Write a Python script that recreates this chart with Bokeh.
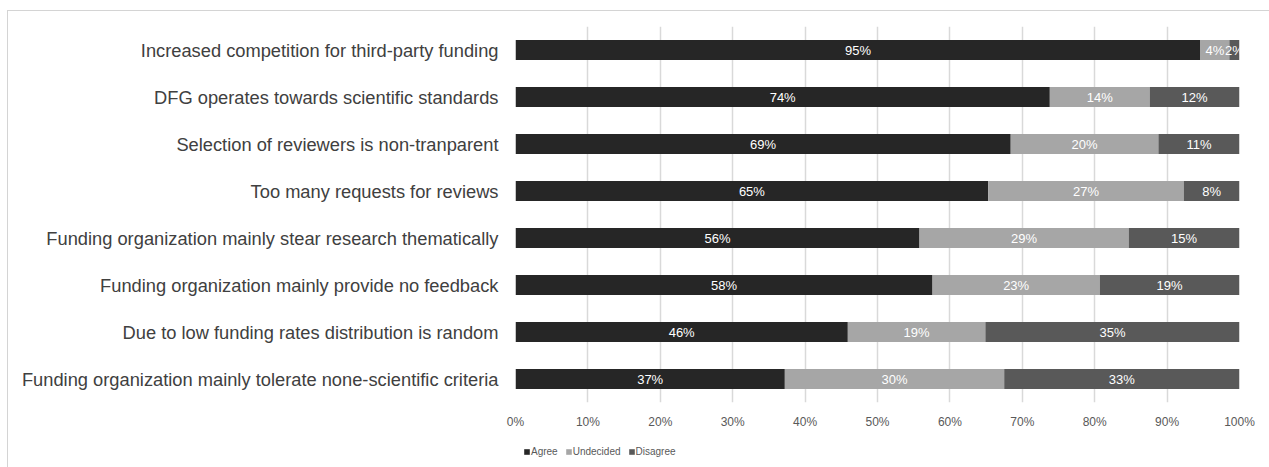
from bokeh.plotting import figure
from bokeh.layouts import column
from bokeh.models import (Legend, LegendItem, ColumnDataSource, FactorRange, NumeralTickFormatter,
                          FixedTicker, Range1d)
from bokeh.core.properties import value
from bokeh.embed import file_html
from bokeh.resources import INLINE

categories = [
    "Increased competition for third-party funding",
    "DFG operates towards scientific standards",
    "Selection of reviewers is non-tranparent",
    "Too many requests for reviews",
    "Funding organization mainly stear research thematically",
    "Funding organization mainly provide no feedback",
    "Due to low funding rates distribution is random",
    "Funding organization mainly tolerate none-scientific criteria",
]
agree = [94.6, 73.8, 68.4, 65.3, 55.8, 57.6, 45.9, 37.2]
undecided = [4.0, 13.8, 20.4, 27.0, 28.9, 23.1, 19.0, 30.3]
disagree = [1.4, 12.4, 11.2, 7.7, 15.3, 19.3, 35.1, 32.5]
agree_lbl = ["95%", "74%", "69%", "65%", "56%", "58%", "46%", "37%"]
undecided_lbl = ["4%", "14%", "20%", "27%", "29%", "23%", "19%", "30%"]
disagree_lbl = ["2%", "12%", "11%", "8%", "15%", "19%", "35%", "33%"]
series = ["Agree", "Undecided", "Disagree"]
colors = ["#262626", "#a6a6a6", "#595959"]
x_ticks = [0, 10, 20, 30, 40, 50, 60, 70, 80, 90, 100]

FONT = "Liberation Sans"

p = figure(
    width=1262, height=430,
    y_range=FactorRange(*reversed(categories)),
    x_range=(0, 100),
    output_backend="svg", toolbar_location=None,
    min_border_left=507, min_border_right=31, min_border_top=15, min_border_bottom=39,
)
p.outline_line_color = None
p.background_fill_color = "white"
p.border_fill_color = "white"

vals = [agree, undecided, disagree]
lbls = [agree_lbl, undecided_lbl, disagree_lbl]
left = [0.0] * len(categories)
for name, col, v, lb in zip(series, colors, vals, lbls):
    right = [a + b for a, b in zip(left, v)]
    mid = [(a + b) / 2 for a, b in zip(left, right)]
    src = ColumnDataSource(dict(cat=categories, left=left, right=right, mid=mid, lbl=lb))
    p.hbar(y="cat", left="left", right="right", height=0.43, source=src,
           fill_color=col, line_color=None)
    p.text(x="mid", y="cat", text="lbl", source=src, text_color="white",
           text_font=value(FONT), text_font_size="13px",
           text_align="center", text_baseline="middle")
    left = right

# axes
p.yaxis.axis_line_color = None
p.yaxis.major_tick_line_color = None
p.yaxis.minor_tick_line_color = None
p.yaxis.major_tick_out = 0
p.yaxis.major_tick_in = 0
p.yaxis.major_label_text_font = FONT
p.yaxis.major_label_text_font_size = "18.3px"
p.yaxis.major_label_text_color = "#404040"
p.yaxis.major_label_standoff = 17

p.xaxis.ticker = FixedTicker(ticks=x_ticks)
p.xaxis.formatter = NumeralTickFormatter(format="0")
p.xaxis.major_label_overrides = {t: f"{t}%" for t in x_ticks}
p.xaxis.axis_line_color = None
p.xaxis.major_tick_line_color = None
p.xaxis.minor_tick_line_color = None
p.xaxis.major_tick_out = 0
p.xaxis.major_tick_in = 0
p.xaxis.major_label_text_font = FONT
p.xaxis.major_label_text_font_size = "12px"
p.xaxis.major_label_text_color = "#595959"
p.xaxis.major_label_standoff = 12

p.ygrid.grid_line_color = None
p.xgrid.grid_line_color = "#d9d9d9"
p.xgrid.grid_line_width = 1.5

# legend strip below the chart (swatches only: zero-size bars, one row per series)
q = figure(
    width=1262, height=27, x_range=Range1d(0, 1), y_range=Range1d(0, 1),
    x_axis_type=None, y_axis_type=None,
    output_backend="svg", toolbar_location=None,
    min_border_left=507, min_border_right=31, min_border_top=0, min_border_bottom=0,
)
q.outline_line_color = None
q.grid.grid_line_color = None
q.border_fill_color = "white"
leg_src = ColumnDataSource(dict(y=[0.0] * len(series), left=[0.0] * len(series),
                                right=[0.0] * len(series), color=colors, name=series))
r = q.hbar(y="y", left="left", right="right", height=0.0, source=leg_src,
           fill_color="color", line_color=None)
items = [LegendItem(label=name, renderers=[r], index=i) for i, name in enumerate(series)]
legend = Legend(
    items=items,
    orientation="horizontal",
    location=(8, 10),
    glyph_width=7, glyph_height=7, label_height=14,
    label_text_font=FONT, label_text_font_size="10px", label_text_color="#595959",
    label_standoff=1, spacing=7, padding=0, margin=0,
    border_line_color=None, background_fill_alpha=0,
)
q.add_layout(legend)

layout = column(p, q)
layout.margin = (10, 0, 0, 7)
layout.styles = {"border-left": "1px solid #d4d4d4", "border-top": "1px solid #d4d4d4"}

open("out.html", "w").write(file_html(layout, INLINE))
